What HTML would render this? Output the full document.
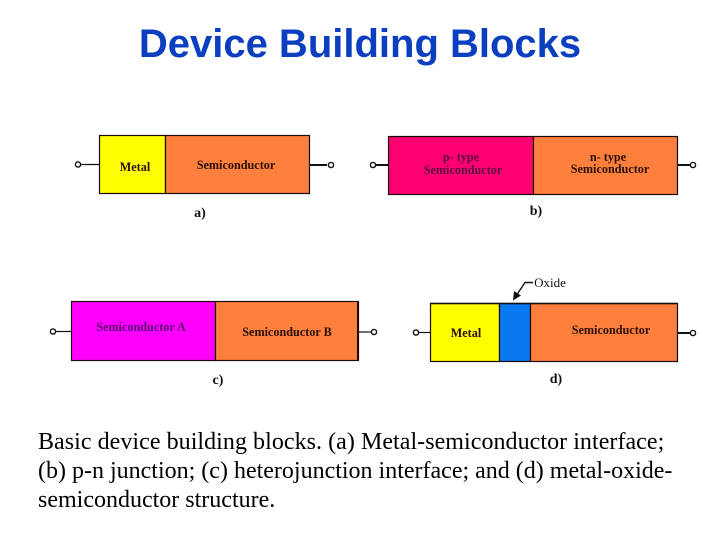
<!DOCTYPE html>
<html>
<head>
<meta charset="utf-8">
<style>
html,body{margin:0;padding:0;background:#fff;}
body{width:720px;height:540px;overflow:hidden;position:relative;}
svg{position:absolute;left:0;top:0;}
.t{font-family:"Liberation Serif",serif;font-weight:bold;font-size:12.2px;fill:#2a1008;}
.l{font-family:"Liberation Serif",serif;font-weight:bold;font-size:14px;fill:#111;}
.title{position:absolute;left:0;top:21px;width:720px;text-align:center;font-family:"Liberation Sans",sans-serif;font-weight:bold;font-size:40px;line-height:46px;color:#0b3fc0;white-space:nowrap;}
.cap{position:absolute;left:38px;top:428px;font-family:"Liberation Serif",serif;font-size:24px;line-height:29px;color:#000;white-space:nowrap;}
.first{letter-spacing:.05px;}
</style>
</head>
<body>
<svg width="720" height="540" viewBox="0 0 720 540">
<g stroke="#1a0a08" stroke-width="1.2">
<rect x="99.5" y="135.5" width="66" height="58" fill="#ffff00"/>
<rect x="165.5" y="135.5" width="144" height="58" fill="#ff7f3c"/>
<rect x="388.5" y="136.5" width="145" height="58" fill="#ff0070"/>
<rect x="533.5" y="136.5" width="144" height="58" fill="#ff7f3c"/>
<rect x="71.5" y="301.5" width="144" height="59" fill="#ff00ff"/>
<rect x="215.5" y="301.5" width="143" height="59" fill="#ff7f3c"/>
<rect x="430.5" y="303.5" width="69" height="58" fill="#ffff00"/>
<rect x="499.5" y="303.5" width="31" height="58" fill="#0a78f0"/>
<rect x="530.5" y="303.5" width="147" height="58" fill="#ff7f3c"/>
</g>
<path d="M358 301V361" stroke="#2a0505" stroke-width="2"/>
<path d="M430 303.5H678" stroke="#111" stroke-width="1.6"/>
<g fill="none" stroke="#111">
<path d="M81 164.5H99" stroke-width="1.2"/>
<path d="M309 165H327" stroke-width="2"/>
<path d="M376 165H388" stroke-width="2"/>
<path d="M678 165H690" stroke-width="2"/>
<path d="M56 331.5H71" stroke-width="1.2"/>
<path d="M359 332H371" stroke-width="1.2"/>
<path d="M419 332.5H430" stroke-width="1.2"/>
<path d="M678 333H690" stroke-width="2"/>
<path d="M533 282.5H525L516 296" stroke-width="1.4"/>
</g>
<path d="M513 300.5L514 291L521 295.5Z" fill="#111"/>
<g fill="#fff" stroke="#111" stroke-width="1.4">
<circle cx="78" cy="164.5" r="2.6"/>
<circle cx="331" cy="165" r="2.6"/>
<circle cx="373" cy="165" r="2.6"/>
<circle cx="693" cy="165" r="2.6"/>
<circle cx="53" cy="331.5" r="2.6"/>
<circle cx="374" cy="332" r="2.6"/>
<circle cx="416" cy="332.5" r="2.6"/>
<circle cx="693" cy="333" r="2.6"/>
</g>
<text class="t" x="135" y="171" text-anchor="middle">Metal</text>
<text class="t" x="236" y="169" text-anchor="middle">Semiconductor</text>
<text class="t" x="461" y="161" text-anchor="middle" style="fill:#5a0a40">p- type</text>
<text class="t" x="463" y="174" text-anchor="middle" style="fill:#5a0a40">Semiconductor</text>
<text class="t" x="608" y="161" text-anchor="middle">n- type</text>
<text class="t" x="610" y="173" text-anchor="middle">Semiconductor</text>
<text class="t" x="141" y="331" text-anchor="middle" style="fill:#5a0a70">Semiconductor A</text>
<text class="t" x="287" y="336" text-anchor="middle">Semiconductor B</text>
<text class="t" x="466" y="337" text-anchor="middle">Metal</text>
<text class="t" x="611" y="334" text-anchor="middle">Semiconductor</text>
<text class="t" x="550" y="287" text-anchor="middle" style="font-weight:normal;font-size:13px;fill:#111">Oxide</text>
<text class="l" x="200" y="217" text-anchor="middle">a)</text>
<text class="l" x="536" y="215" text-anchor="middle">b)</text>
<text class="l" x="218" y="384" text-anchor="middle">c)</text>
<text class="l" x="556" y="383" text-anchor="middle">d)</text>
</svg>
<div class="title">Device Building Blocks</div>
<div class="cap"><span class="first">Basic device building blocks. (a) Metal-semiconductor interface;</span><br>(b) p-n junction; (c) heterojunction interface; and (d) metal-oxide-<br>semiconductor structure.</div>
</body>
</html>
